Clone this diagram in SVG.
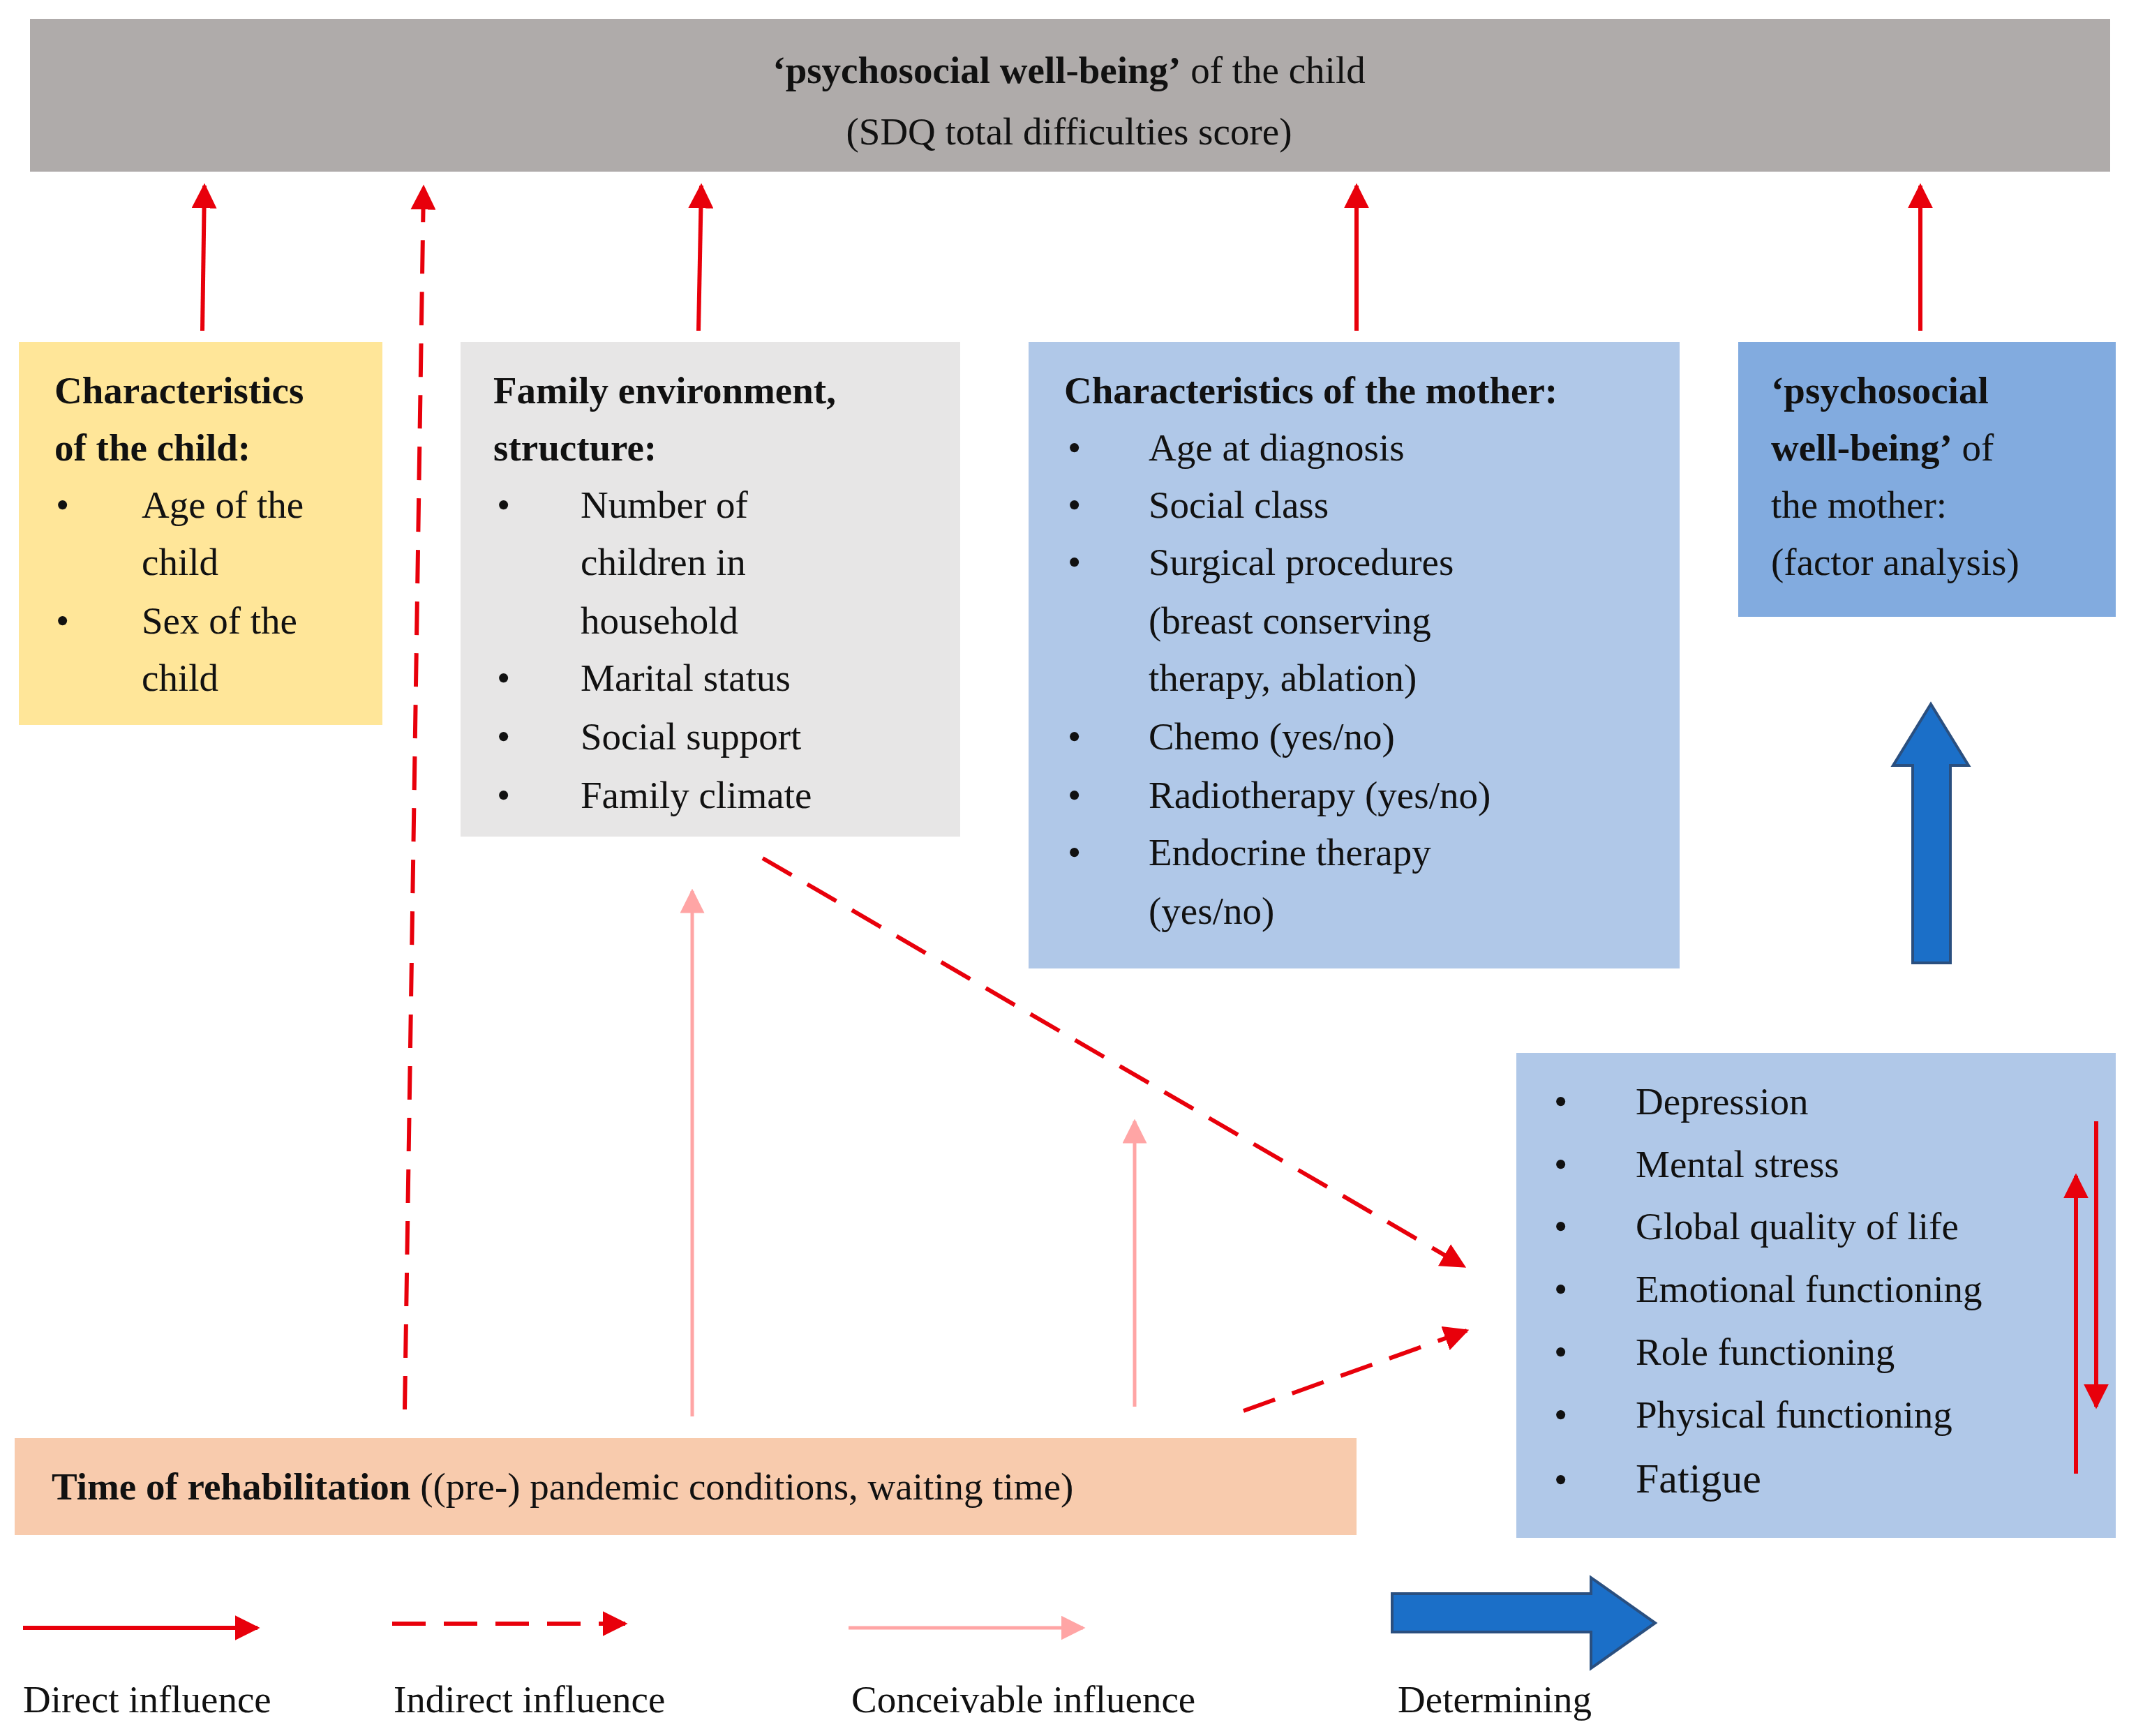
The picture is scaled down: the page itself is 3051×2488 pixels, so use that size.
<svg xmlns="http://www.w3.org/2000/svg" width="3051" height="2488" viewBox="0 0 3051 2488">
<style>
text{font-family:"Liberation Serif","DejaVu Serif",serif;font-size:55px;fill:#111}
.b{font-weight:bold}
.red{stroke:#e8000b;stroke-width:6;fill:none}
.dash{stroke-dasharray:48,26}
.pink{stroke:#ffa5a5;stroke-width:5;fill:none}
</style>
<defs>
<marker id="ar" viewBox="0 0 10 10" refX="9" refY="5" markerWidth="6" markerHeight="6" orient="auto" markerUnits="strokeWidth"><path d="M0,0L10,5L0,10z" fill="#e8000b"/></marker>
<marker id="ap" viewBox="0 0 10 10" refX="9" refY="5" markerWidth="7" markerHeight="7" orient="auto" markerUnits="strokeWidth"><path d="M0,0L10,5L0,10z" fill="#ffa5a5"/></marker>
</defs>
<rect width="3051" height="2488" fill="#fff"/>
<g id="child-wb"><rect x="43" y="27" width="2981" height="219" fill="#afabaa"/>
<text x="1532" y="119" text-anchor="middle"><tspan class="b">‘psychosocial well-being’</tspan> of the child</text>
<text x="1532" y="207" text-anchor="middle">(SDQ total difficulties score)</text></g>
<g id="child"><rect x="27" y="490" width="521" height="549" fill="#ffe699"/>
<text class="b" x="78" y="578">Characteristics</text><text class="b" x="78" y="660">of the child:</text>
<text x="80" y="742">•</text><text x="203" y="742">Age of the</text><text x="203" y="824">child</text>
<text x="80" y="908">•</text><text x="203" y="908">Sex of the</text><text x="203" y="990">child</text></g>
<g id="family"><rect x="660" y="490" width="716" height="709" fill="#e7e6e6"/>
<text class="b" x="707" y="578">Family environment,</text><text class="b" x="707" y="660">structure:</text>
<text x="712" y="742">•</text><text x="832" y="742">Number of</text><text x="832" y="824">children in</text><text x="832" y="908">household</text>
<text x="712" y="990">•</text><text x="832" y="990">Marital status</text>
<text x="712" y="1074">•</text><text x="832" y="1074">Social support</text>
<text x="712" y="1158">•</text><text x="832" y="1158">Family climate</text></g>
<g id="mother"><rect x="1474" y="490" width="933" height="898" fill="#b0c8e8"/>
<text class="b" x="1525" y="578">Characteristics of the mother:</text>
<text x="1530" y="660">•</text><text x="1646" y="660">Age at diagnosis</text>
<text x="1530" y="742">•</text><text x="1646" y="742">Social class</text>
<text x="1530" y="824">•</text><text x="1646" y="824">Surgical procedures</text><text x="1646" y="908">(breast conserving</text><text x="1646" y="990">therapy, ablation)</text>
<text x="1530" y="1074">•</text><text x="1646" y="1074">Chemo (yes/no)</text>
<text x="1530" y="1158">•</text><text x="1646" y="1158">Radiotherapy (yes/no)</text>
<text x="1530" y="1240">•</text><text x="1646" y="1240">Endocrine therapy</text><text x="1646" y="1324">(yes/no)</text></g>
<g id="mother-wb"><rect x="2491" y="490" width="541" height="394" fill="#82abdf"/>
<text x="2538" y="578"><tspan class="b">‘psychosocial</tspan></text>
<text x="2538" y="660"><tspan class="b">well-being’</tspan> of</text>
<text x="2538" y="742">the mother:</text><text x="2538" y="824">(factor analysis)</text></g>
<g id="outcomes"><rect x="2173" y="1509" width="859" height="695" fill="#b0c8e8"/>
<text x="2227" y="1597">•</text><text x="2344" y="1597">Depression</text>
<text x="2227" y="1687">•</text><text x="2344" y="1687">Mental stress</text>
<text x="2227" y="1776">•</text><text x="2344" y="1776">Global quality of life</text>
<text x="2227" y="1866">•</text><text x="2344" y="1866">Emotional functioning</text>
<text x="2227" y="1956">•</text><text x="2344" y="1956">Role functioning</text>
<text x="2227" y="2046">•</text><text x="2344" y="2046">Physical functioning</text>
<text x="2227" y="2139">•</text><text x="2344" y="2139" style="font-size:60px">Fatigue</text></g>
<g id="rehab"><rect x="21" y="2061" width="1923" height="139" fill="#f8cbad"/>
<text x="74" y="2149"><tspan class="b">Time of rehabilitation</tspan> ((pre-) pandemic conditions, waiting time)</text></g>
<g id="connectors">
<line class="red" x1="290" y1="474" x2="293" y2="266" marker-end="url(#ar)"/>
<line class="red dash" x1="580" y1="2020" x2="607" y2="268" marker-end="url(#ar)"/>
<line class="red" x1="1001" y1="474" x2="1005" y2="266" marker-end="url(#ar)"/>
<line class="red" x1="1944" y1="474" x2="1944" y2="266" marker-end="url(#ar)"/>
<line class="red" x1="2752" y1="474" x2="2752" y2="266" marker-end="url(#ar)"/>
<line class="red dash" x1="1093" y1="1230" x2="2098" y2="1815" marker-end="url(#ar)"/>
<line class="red dash" x1="1782" y1="2022" x2="2102" y2="1907" marker-end="url(#ar)"/>
<line class="pink" x1="992" y1="2030" x2="992" y2="1277" marker-end="url(#ap)"/>
<line class="pink" x1="1626" y1="2016" x2="1626" y2="1607" marker-end="url(#ap)"/>
<line class="red" x1="2975" y1="2112" x2="2975" y2="1685" marker-end="url(#ar)"/>
<line class="red" x1="3004" y1="1607" x2="3004" y2="2016" marker-end="url(#ar)"/>
<path d="M2741,1380V1097H2713L2767,1009L2821,1097H2795V1380Z" fill="#1b6fc8" stroke="#2a4f7f" stroke-width="4"/>
</g>
<g id="legend">
<line class="red" x1="33" y1="2333" x2="369" y2="2333" marker-end="url(#ar)"/>
<line class="red dash" x1="562" y1="2327" x2="896" y2="2327" marker-end="url(#ar)"/>
<line class="pink" x1="1216" y1="2333" x2="1552" y2="2333" marker-end="url(#ap)"/>
<path d="M1995,2284H2280V2261L2372,2326L2280,2391V2339H1995Z" fill="#1b6fc8" stroke="#2a4f7f" stroke-width="4"/>
<text x="33" y="2454">Direct influence</text>
<text x="564" y="2454">Indirect influence</text>
<text x="1220" y="2454">Conceivable influence</text>
<text x="2003" y="2454">Determining</text>
</g>
</svg>
